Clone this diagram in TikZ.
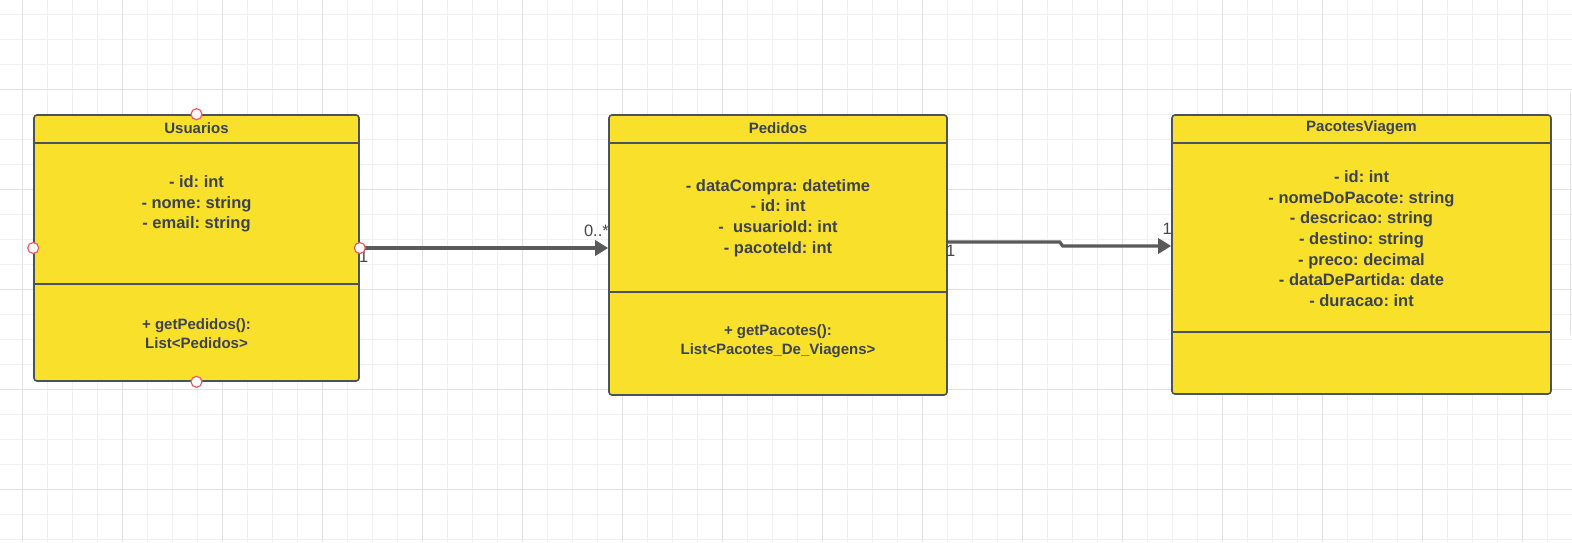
\documentclass[tikz,border=0pt]{standalone}
\usepackage{fontspec}
\setmainfont{Liberation Sans}
\usepackage{xcolor}
\usepackage{tikz}
\usetikzlibrary{arrows.meta,positioning,calc}
\definecolor{umlfill}{HTML}{F9E02B}
\definecolor{umledge}{HTML}{4A5458}
\definecolor{umltext}{HTML}{3B4350}
\definecolor{assocline}{HTML}{5A5A5A}
\definecolor{gridminor}{HTML}{F0F0F0}
\definecolor{gridmajor}{HTML}{E1E1E1}
\definecolor{handle}{HTML}{E8596A}
\frenchspacing

\begin{document}
\begin{tikzpicture}[
  x=1pt, y=-1pt,
  classbox/.style={draw=umledge, fill=umlfill, line width=1.6pt, rounded corners=3pt, inner sep=0pt},
  divider/.style={draw=umledge, line width=1.6pt},
  title/.style={font=\fontsize{15}{18}\selectfont\bfseries, text=umltext, inner sep=0pt},
  attrs/.style={font=\fontsize{16.5}{20.6}\selectfont\bfseries, text=umltext, align=center, inner sep=0pt},
  ops/.style={font=\fontsize{15}{19}\selectfont\bfseries, text=umltext, align=center, inner sep=0pt},
  assoc/.style={draw=assocline, line width=3.2pt, -{Triangle[length=13pt, width=15pt]}},
  mult/.style={font=\fontsize{16.5}{18}\selectfont, text=black!72, inner sep=0pt},
  handlept/.style={circle, draw=handle, fill=white, line width=1.2pt, minimum size=11pt, inner sep=0pt},
]
% background grid
\useasboundingbox (0,0) rectangle (1572,542);
\fill[white] (0,0) rectangle (1572,542);
\foreach \gx in {-3,22,...,1572} \draw[gridminor, line width=1pt] (\gx,0) -- (\gx,542);
\foreach \gy in {14,39,...,542} \draw[gridminor, line width=1pt] (0,\gy) -- (1572,\gy);
\foreach \gx in {22,122,...,1572} \draw[gridmajor, line width=1pt] (\gx,0) -- (\gx,542);
\foreach \gy in {89,189,...,542} \draw[gridmajor, line width=1pt] (0,\gy) -- (1572,\gy);
\draw[gridmajor, line width=1.5pt] (1570.5,93) -- (1570.5,335);

% Usuarios
\node[classbox, minimum width=325pt, minimum height=266pt] (usuarios) at (196.5,248) {};
\draw[divider] (34,143) -- (359,143);
\draw[divider] (34,284) -- (359,284);
\node[title] (usuariosname) at (196.5,128) {Usuarios};
\node[attrs] (usuariosattrs) at (196.5,204) {- id: int\\- nome: string\\- email: string};
\node[ops] (usuariosops) at (196.5,333.5) {+ getPedidos():\\List<Pedidos>};

% Pedidos
\node[classbox, minimum width=338pt, minimum height=280pt] (pedidos) at (778,255) {};
\draw[divider] (609,143) -- (947,143);
\draw[divider] (609,292) -- (947,292);
\node[title] (pedidosname) at (778,128) {Pedidos};
\node[attrs] (pedidosattrs) at (778,218) {- dataCompra: datetime\\- id: int\\-\ \ usuarioId: int\\- pacoteId: int};
\node[ops] (pedidosops) at (778,341.5) {+ getPacotes():\\List<Pacotes\_De\_Viagens>};

% PacotesViagem
\node[classbox, minimum width=379pt, minimum height=279pt] (pacotes) at (1361.5,254.5) {};
\draw[divider] (1172,143) -- (1551,143);
\draw[divider] (1172,332) -- (1551,332);
\node[title] (pacotesname) at (1361.5,128) {PacotesViagem};
\node[attrs] (pacotesattrs) at (1361.5,238.5) {- id: int\\- nomeDoPacote: string\\- descricao: string\\- destino: string\\- preco: decimal\\- dataDePartida: date\\- duracao: int};

% associations
\draw[assoc] (usuarios.east) -- (pedidos.west |- usuarios.east);
\draw[assoc] ([yshift=13pt]pedidos.east) -- ++(112,0) -- ++(3,4) -- ([yshift=8.5pt]pacotes.west);
\node[mult, anchor=north west] (m1) at (359,251) {1};
\node[mult, anchor=south east] (m2) at (609,237) {0..*};
\node[mult, anchor=north west] (m3) at (946,245) {1};
\node[mult, anchor=south east] (m4) at (1172,235) {1};

% selection handles
\node[handlept] (hn) at (usuarios.north) {};
\node[handlept] (hs) at (usuarios.south) {};
\node[handlept] (hw) at (usuarios.west) {};
\node[handlept] (he) at (usuarios.east) {};
\end{tikzpicture}
\end{document}
